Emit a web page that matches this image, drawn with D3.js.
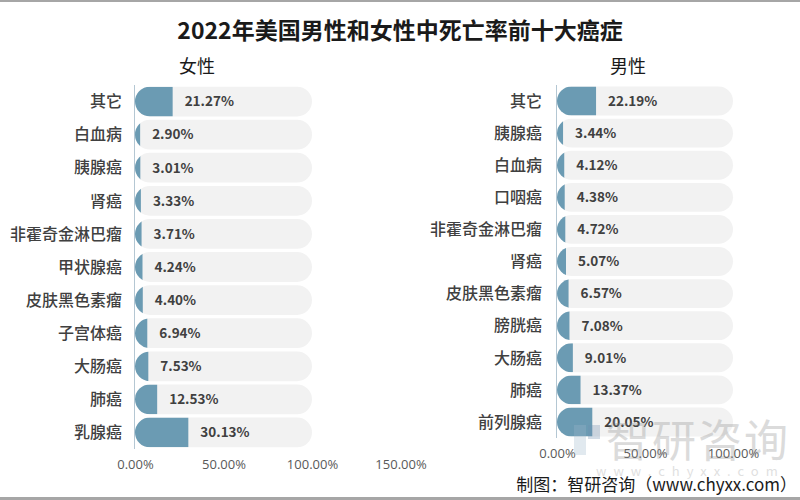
<!DOCTYPE html>
<html><head><meta charset="utf-8">
<script src="https://cdn.jsdelivr.net/npm/d3@7/dist/d3.min.js"></script>
<style>body{margin:0;background:#fff}svg{display:block;font-family:"Noto Sans CJK SC","Microsoft YaHei",sans-serif}</style>
</head><body><svg id="c" width="800" height="500"></svg>
<script>
const title = "2022年美国男性和女性中死亡率前十大癌症";
const femaleTitle = "女性";
const maleTitle = "男性";
const femaleCats = ["其它","白血病","胰腺癌","肾癌","非霍奇金淋巴瘤","甲状腺癌","皮肤黑色素瘤","子宫体癌","大肠癌","肺癌","乳腺癌"];
const femaleVals = [21.27,2.90,3.01,3.33,3.71,4.24,4.40,6.94,7.53,12.53,30.13];
const maleCats = ["其它","胰腺癌","白血病","口咽癌","非霍奇金淋巴瘤","肾癌","皮肤黑色素瘤","膀胱癌","大肠癌","肺癌","前列腺癌"];
const maleVals = [22.19,3.44,4.12,4.38,4.72,5.07,6.57,7.08,9.01,13.37,20.05];
const femaleTicks = [0,50,100,150];
const maleTicks = [0,50,100];
const source = "制图：智研咨询（www.chyxx.com）";

const svg = d3.select("#c");
// frame lines
svg.append("rect").attr("x",0).attr("y",0).attr("width",800).attr("height",2).attr("fill","#a6a6a6");
svg.append("rect").attr("x",0).attr("y",497).attr("width",800).attr("height",3).attr("fill","#a6a6a6");

svg.append("text").attr("x",400).attr("y",39).attr("text-anchor","middle")
  .attr("font-size",23).attr("font-weight","bold").attr("fill","#1a1a1a").text(title);

const defs = svg.append("defs");
let clipId = 0;

function panel(cats, vals, ticks, x0, x100, yTop, yBot, titleText, titleX, labelRight) {
  const g = svg.append("g");
  const x = d3.scaleLinear().domain([0,100]).range([x0, x100]);
  const y = d3.scaleBand().domain(cats).range([yTop, yBot]).paddingInner(0.1).paddingOuter(0.05);
  const h = y.bandwidth();
  const r = h/2;
  g.append("text").attr("x",titleX).attr("y",yTop-12).attr("text-anchor","middle")
    .attr("font-size",18).attr("fill","#1a1a1a").text(titleText);
  // background capsules
  g.selectAll(".bg").data(cats).join("rect")
    .attr("x", x(0)).attr("y", d=>y(d)).attr("width", x(100)-x(0)).attr("height", h)
    .attr("rx", r).attr("ry", r).attr("fill","#f2f2f2");
  // bars: capsule clipped to value width
  cats.forEach((c,i)=>{
    const id = "clip"+(clipId++);
    defs.append("clipPath").attr("id",id).append("rect")
      .attr("x", x(0)).attr("y", y(c)).attr("width", x(vals[i])-x(0)).attr("height", h);
    g.append("rect").attr("clip-path",`url(#${id})`)
      .attr("x", x(0)).attr("y", y(c)).attr("width", x(100)-x(0)).attr("height", h)
      .attr("rx", r).attr("ry", r).attr("fill","#6b9bb3");
    g.append("text").attr("x", x(vals[i])+12).attr("y", y(c)+h/2).attr("dy","0.36em")
      .attr("font-size",13.5).attr("font-weight","bold").attr("fill","#404040")
      .text(vals[i].toFixed(2)+"%");
    g.append("text").attr("x", labelRight).attr("y", y(c)+h/2).attr("dy","0.36em")
      .attr("text-anchor","end").attr("font-size",16).attr("font-weight","500").attr("fill","#404040").text(c);
  });
  // axis line
  g.append("line").attr("x1",x(0)-0.5).attr("x2",x(0)-0.5).attr("y1",yTop).attr("y2",yBot)
    .attr("stroke","#b4c7d3").attr("stroke-width",1);
  // tick labels
  const ax = d3.axisBottom(x).tickValues(ticks).tickSize(0).tickFormat(d=>d.toFixed(2)+"%");
  const axg = g.append("g").attr("transform",`translate(0,${yBot+8})`).call(ax);
  axg.select(".domain").remove();
  axg.selectAll("text").attr("font-size",13).attr("fill","#595959").attr("font-family","'Open Sans',sans-serif");
}

panel(femaleCats, femaleVals, femaleTicks, 135, 312, 85, 449, femaleTitle, 197, 122);
panel(maleCats, maleVals, maleTicks, 557, 733, 85, 438, maleTitle, 628, 542);

// watermark
const wm = svg.append("g").attr("opacity",0.3);
wm.append("rect").attr("x",574).attr("y",425).attr("width",12).attr("height",30).attr("fill","#9fb7cc");
wm.append("rect").attr("x",588).attr("y",425).attr("width",12).attr("height",14).attr("fill","#6f8fb0");
wm.append("text").attr("x",606).attr("y",457).attr("font-size",44).attr("fill","#8a8a8a").attr("letter-spacing",2).text("智研咨询");
wm.append("text").attr("x",596).attr("y",476).attr("font-size",13).attr("fill","#9a9a9a").attr("letter-spacing",7).text("www.chyxx.com");

svg.append("text").attr("x",797).attr("y",491).attr("text-anchor","end")
  .attr("font-size",17).attr("fill","#1a1a1a").text(source);
</script></body></html>
